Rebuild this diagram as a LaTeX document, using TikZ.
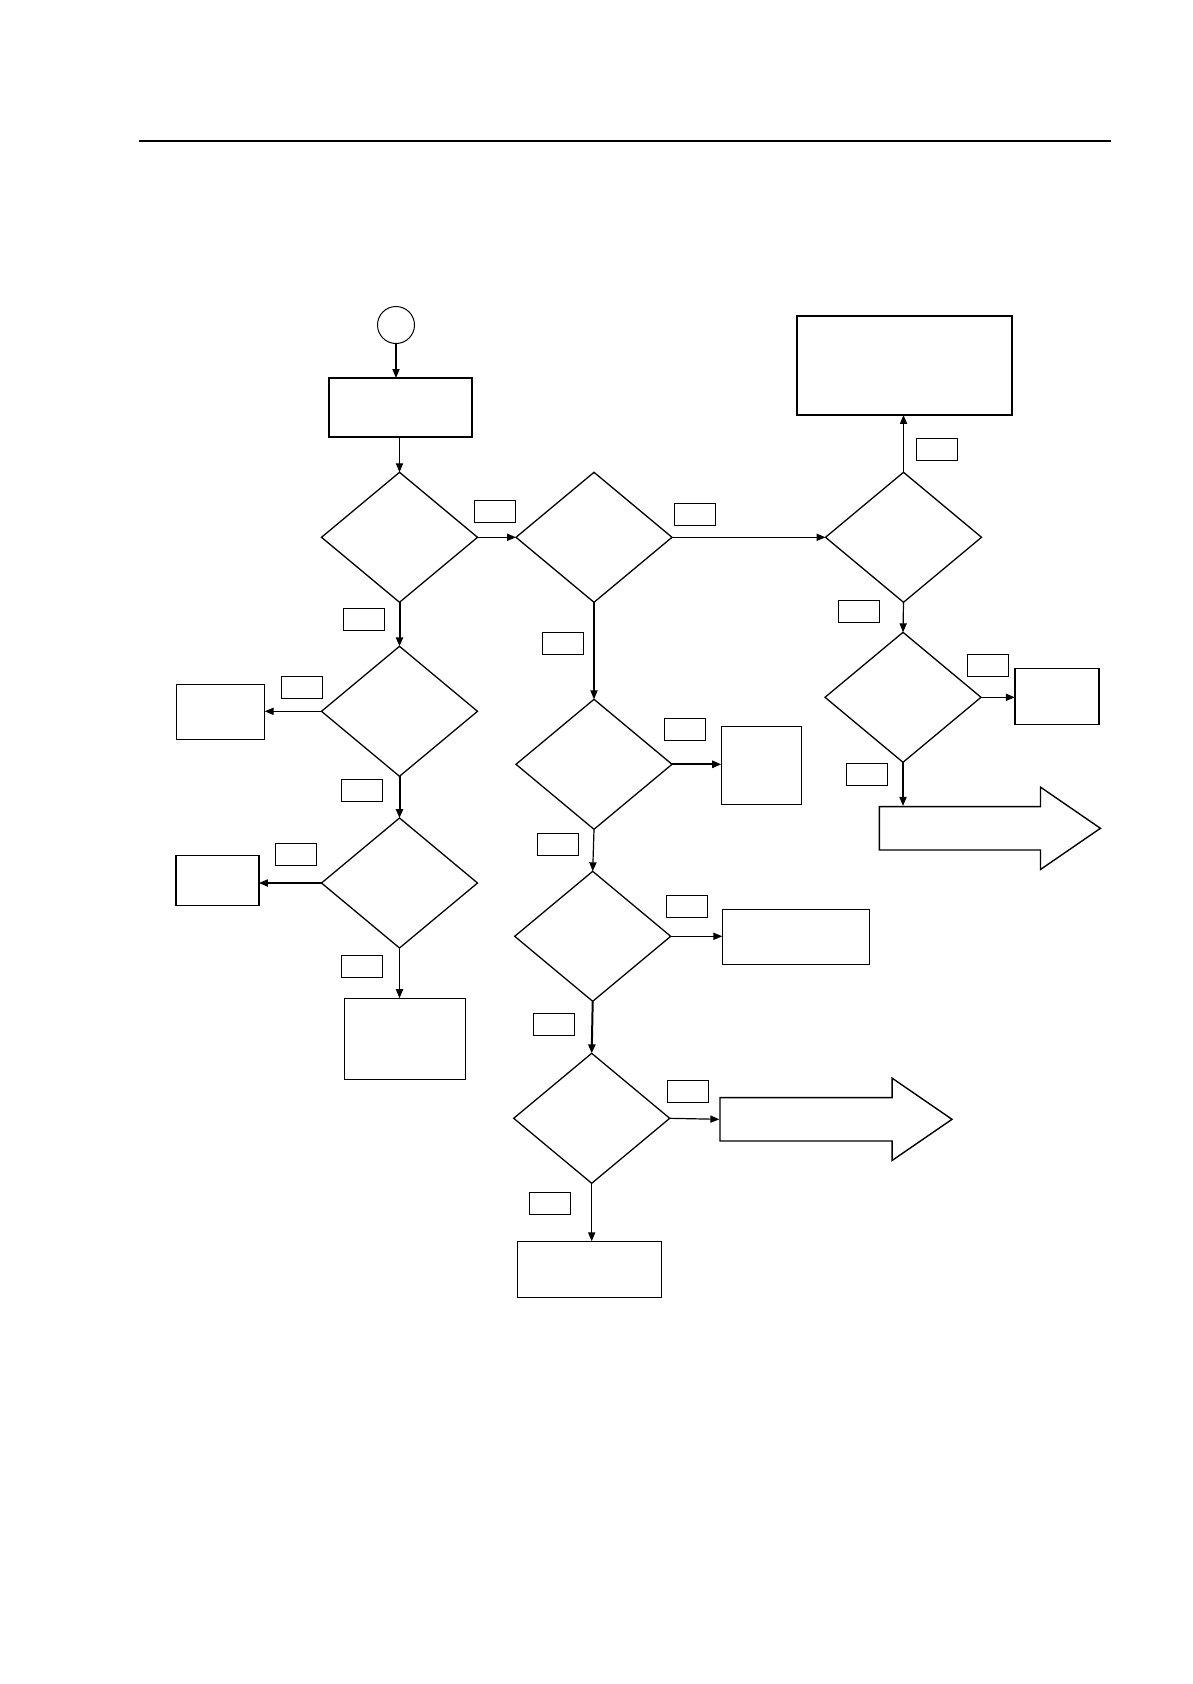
\documentclass[tikz,border=0pt]{standalone}
\usetikzlibrary{shapes,arrows.meta}
\newlength\px
\setlength\px{0.01762cm}

\begin{document}
\begin{tikzpicture}[x=0.01762cm,y=-0.01762cm,
    dec/.style={draw,diamond,inner sep=0pt,outer sep=0pt,minimum width=156\px,minimum height=130\px,line width=0.65pt},
    blk/.style={draw,rectangle,inner sep=0pt,outer sep=0pt,line width=0.7pt},
    tag/.style={draw,rectangle,inner sep=0pt,minimum width=41\px,minimum height=22\px,line width=0.45pt},
    bigarrow/.style={draw,single arrow,single arrow head extend=19.5\px,single arrow tip angle=69,inner sep=21\px,minimum width=0pt,anchor=tail,line width=0.7pt},
    flow/.style={-{Triangle[length=4.5pt,width=3.6pt]},line width=0.6pt}]
  \useasboundingbox (0,0) rectangle (1192,1684);
  \draw[line width=0.6pt] (139,141) -- (1111,141);

  \node[draw,circle,inner sep=0pt,minimum size=37\px,line width=0.5pt] (start) at (396,325) {};
  \node[blk,minimum width=143\px,minimum height=59\px] (init) at (400.5,407.5) {};
  \node[dec] (D1) at (399.5,537.3) {};
  \node[dec] (D2) at (594,537.3) {};
  \node[dec] (D3) at (903.5,537.3) {};
  \node[blk,minimum width=215\px,minimum height=99\px] (top) at (904.5,365.5) {};
  \node[dec] (D4) at (399.5,711.3) {};
  \node[blk,minimum width=88\px,minimum height=55\px] (L1) at (220.7,711.7) {};
  \node[dec] (D5) at (399.5,883) {};
  \node[blk,minimum width=83\px,minimum height=50\px] (L2) at (217.4,880.2) {};
  \node[blk,minimum width=121\px,minimum height=81\px] (L3) at (404.8,1038.7) {};
  \node[dec] (D7) at (594,764.3) {};
  \node[blk,minimum width=80\px,minimum height=78\px] (M1) at (761.2,765.2) {};
  \node[dec] (D8) at (592.7,936.3) {};
  \node[blk,minimum width=147\px,minimum height=55\px] (M2) at (795.8,936.8) {};
  \node[dec] (D9) at (591.7,1118.3) {};
  \node[bigarrow,minimum height=232\px] (A1) at (719.3,1119.3) {};
  \node[blk,minimum width=144\px,minimum height=56\px] (M3) at (589.5,1269.3) {};
  \node[dec] (D6) at (903,697.3) {};
  \node[blk,minimum width=84\px,minimum height=56\px] (R1) at (1056.8,696.7) {};
  \node[bigarrow,minimum height=221\px] (A2) at (878.7,828.3) {};

  \node[tag] (t1) at (495,511.8) {};
  \node[tag] (t2) at (695,514.8) {};
  \node[tag] (t3) at (364,619.3) {};
  \node[tag] (t4) at (563,643.3) {};
  \node[tag] (t5) at (936.5,449.2) {};
  \node[tag] (t6) at (859.3,611) {};
  \node[tag] (t7) at (302,687.3) {};
  \node[tag] (t8) at (361.5,790.3) {};
  \node[tag] (t9) at (295.5,854.3) {};
  \node[tag] (t10) at (362,966.3) {};
  \node[tag] (t11) at (685,729.8) {};
  \node[tag] (t12) at (558,844.3) {};
  \node[tag] (t13) at (687,906.3) {};
  \node[tag] (t14) at (553.5,1024.3) {};
  \node[tag] (t15) at (688,1091.3) {};
  \node[tag] (t16) at (550,1203.3) {};
  \node[tag] (t17) at (987.8,665.3) {};
  \node[tag] (t18) at (867,774.2) {};

  \path[flow] (start) edge (start |- init.north) (D1.north |- init.south) edge (D1.north);
  \path[flow] (D1.east) edge (D2.west) (D2.east) edge (D3.west) (D3.north) edge (D3.north |- top.south);
  \path[flow] (D1.south) edge[line width=1pt] (D4.north) (D4.west) edge (D4.west -| L1.east);
  \path[flow] (D4.south) edge[line width=1pt] (D5.north) (D5.west) edge (D5.west -| L2.east);
  \path[flow] (D5.south) edge (D5.south |- L3.north);
  \path[flow] (D2.south) edge (D7.north) (D7.east) edge[line width=1pt] (D7.east -| M1.west);
  \path[flow] (D7.south) edge (D8.north) (D8.east) edge (D8.east -| M2.west);
  \path[flow] (D8.south) edge[line width=1pt] (D9.north) (D9.east) edge (A1.tail);
  \path[flow] (D9.south) edge (D9.south |- M3.north);
  \path[flow] (D3.south) edge (D6.north) (D6.east) edge (D6.east -| R1.west);
  \path[flow] (D6.south) edge (D6.south |- A2.north);
\end{tikzpicture}
\end{document}
